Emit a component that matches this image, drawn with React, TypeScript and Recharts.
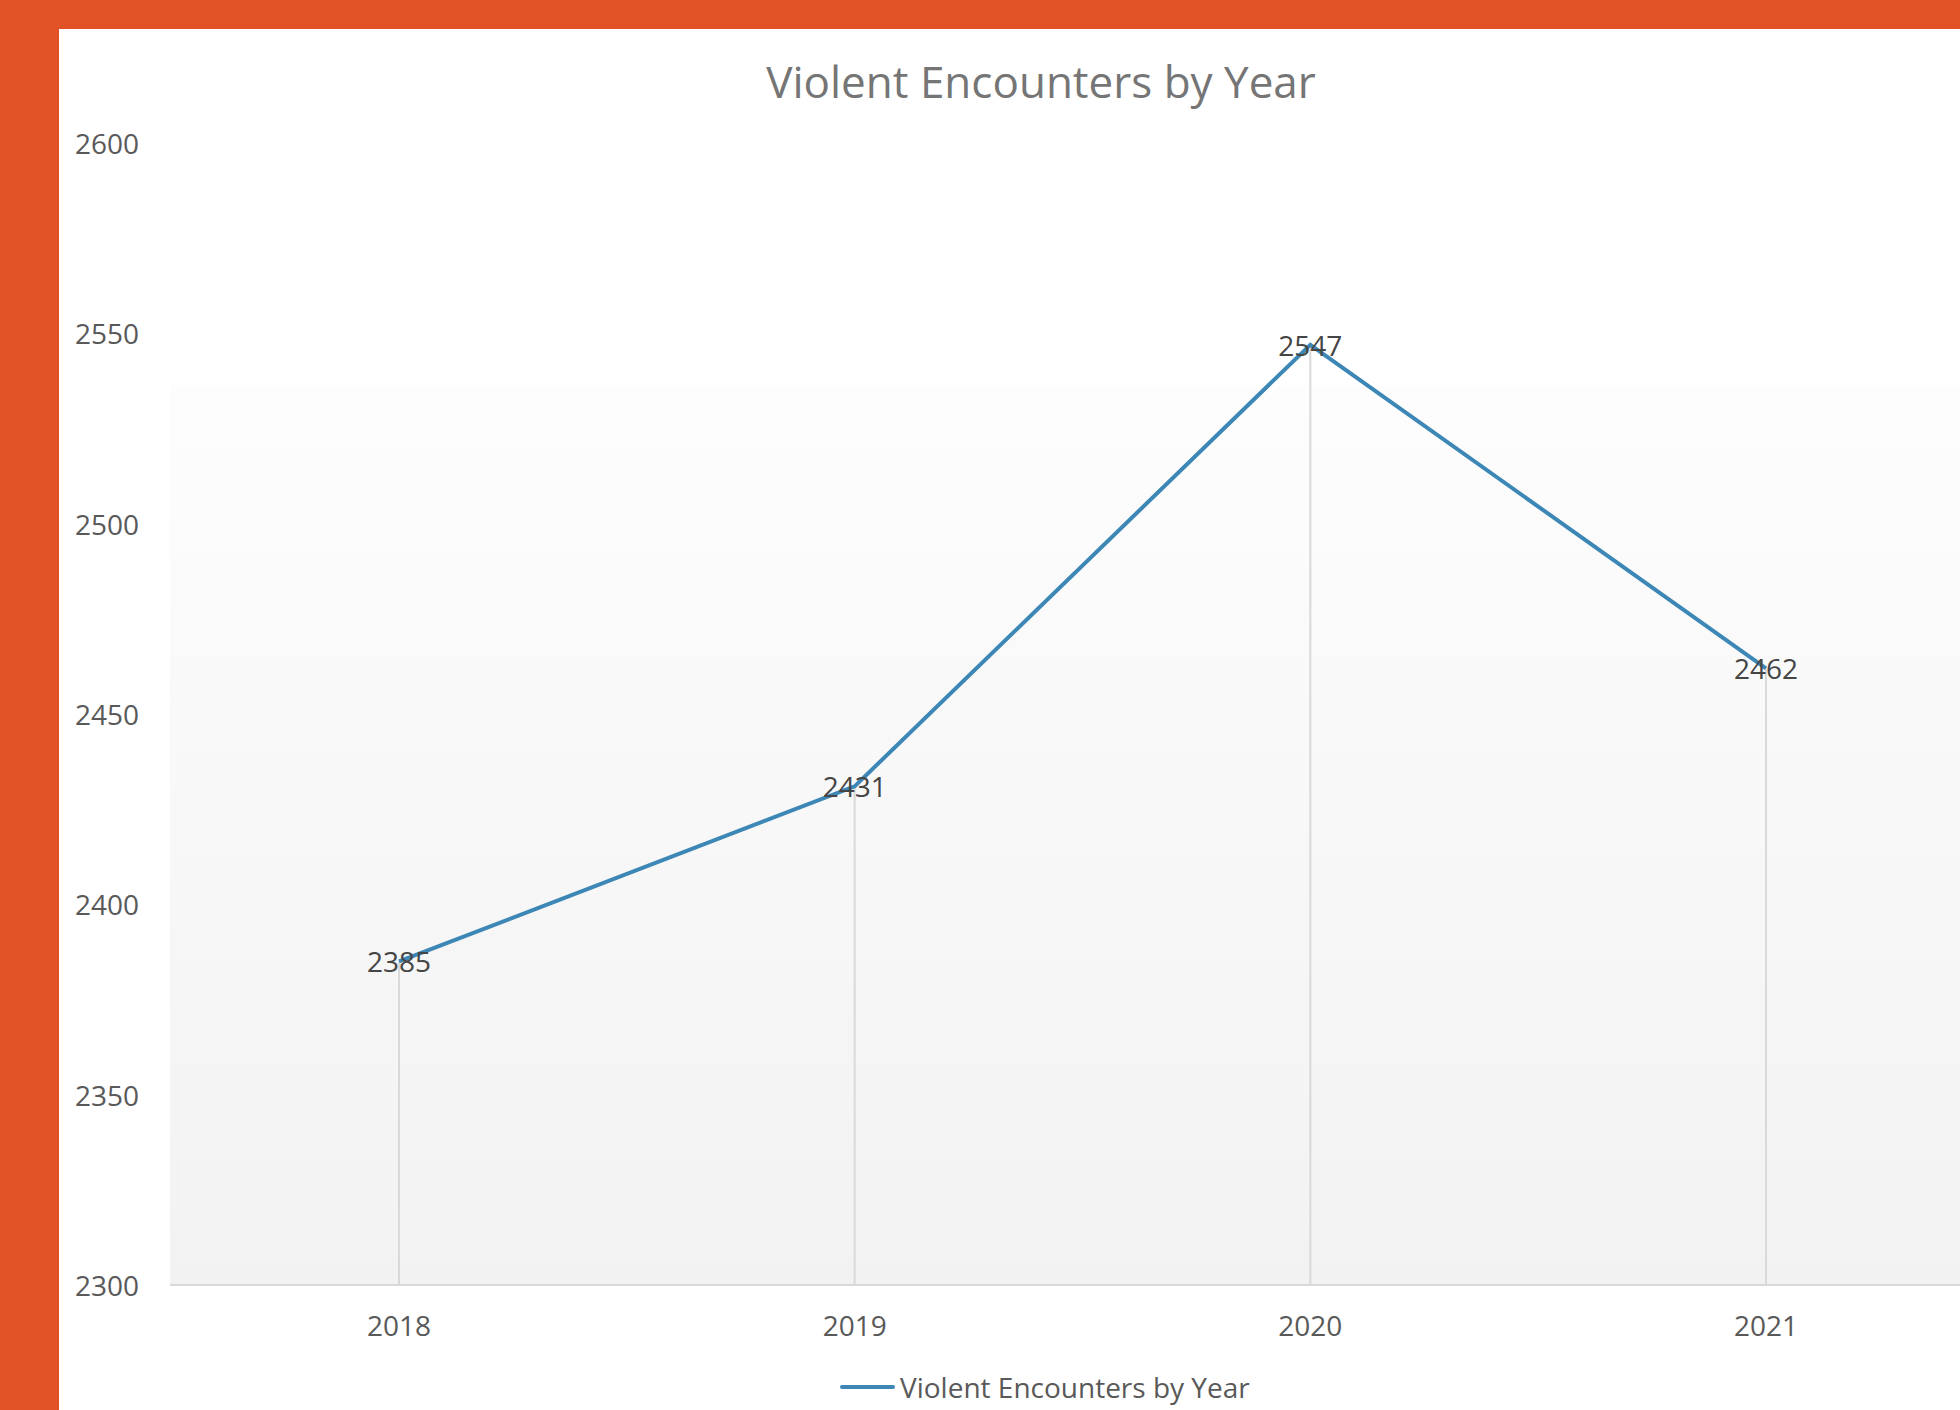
import React from 'react';
import { LineChart, Line, XAxis, YAxis, CartesianGrid, ReferenceLine } from 'recharts';

const years = ['2018', '2019', '2020', '2021'];
const encounters = [2385, 2431, 2547, 2462];
const yTicks = [2300, 2350, 2400, 2450, 2500, 2550, 2600];
const seriesName = 'Violent Encounters by Year';
const chartTitle = 'Violent Encounters by Year';

const data = years.map((y, i) => ({ year: y, value: encounters[i] }));

const FONT = '"Open Sans", sans-serif';
const LINE_COLOR = '#3c87b6';

const YTick = (props: any) => {
  const { y, payload } = props;
  return (
    <text x={75} y={y} textAnchor="start" dominantBaseline="central" fill="#595959" fontSize={28} fontFamily={FONT}>
      {payload.value}
    </text>
  );
};

const XTick = (props: any) => {
  const { x, payload } = props;
  return (
    <text x={x} y={1325} textAnchor="middle" dominantBaseline="central" fill="#595959" fontSize={28} fontFamily={FONT}>
      {payload.value}
    </text>
  );
};

const DataLabel = (props: any) => {
  const { x, y, value } = props;
  return (
    <text x={x} y={y} textAnchor="middle" dominantBaseline="central" fill="#454545" fontSize={28} fontFamily={FONT}>
      {value}
    </text>
  );
};

export default function App() {
  return (
    <div style={{ position: 'absolute', left: 0, top: 0, width: 1960, height: 1410, overflow: 'hidden', background: '#e15326' }}>
      <div style={{ position: 'absolute', left: 59, top: 29, right: 0, bottom: 0, background: '#ffffff' }} />
      <div
        style={{
          position: 'absolute', left: 541, top: 52, width: 1000, textAlign: 'center',
          fontFamily: FONT, fontSize: 44, color: '#757575', lineHeight: '58px',
        }}
      >
        {chartTitle}
      </div>
      <div style={{ position: 'absolute', left: 0, top: 0 }}>
        <LineChart width={2000} height={1410} data={data} margin={{ top: 143, right: 5, bottom: 0, left: 0 }}>
          <defs>
            <linearGradient id="plotBg" x1="0" y1="0" x2="0" y2="1">
              <stop offset="0" stopColor="#ffffff" />
              <stop offset="0.21" stopColor="#ffffff" />
              <stop offset="0.215" stopColor="#fdfdfd" />
              <stop offset="1" stopColor="#f2f2f2" />
            </linearGradient>
          </defs>
          <CartesianGrid horizontal={false} vertical={false} fill="url(#plotBg)" stroke="none" />
          <XAxis
            dataKey="year"
            height={125}
            padding={{ left: 229, right: 229 }}
            axisLine={{ stroke: '#d9d9d9', strokeWidth: 2 }}
            tickLine={false}
            tick={<XTick />}
            interval={0}
          />
          <YAxis
            width={170}
            domain={[2300, 2600]}
            ticks={yTicks}
            axisLine={false}
            tickLine={false}
            tick={<YTick />}
            interval={0}
          />
          {data.map((d) => (
            <ReferenceLine
              key={d.year}
              segment={[{ x: d.year, y: yTicks[0] }, { x: d.year, y: d.value }]}
              stroke="#d9d9d9"
              strokeWidth={2}
            />
          ))}
          <Line
            type="linear"
            dataKey="value"
            name={seriesName}
            stroke={LINE_COLOR}
            strokeWidth={4}
            dot={false}
            activeDot={false}
            label={<DataLabel />}
            isAnimationActive={false}
          />
        </LineChart>
      </div>
      <div
        style={{
          position: 'absolute', left: 840, top: 1368, display: 'flex', alignItems: 'center',
          fontFamily: FONT, fontSize: 28, color: '#595959', lineHeight: '38px',
        }}
      >
        <span style={{ display: 'inline-block', width: 55, height: 4, borderRadius: 2, background: LINE_COLOR, marginRight: 5 }} />
        <span>{seriesName}</span>
      </div>
    </div>
  );
}
